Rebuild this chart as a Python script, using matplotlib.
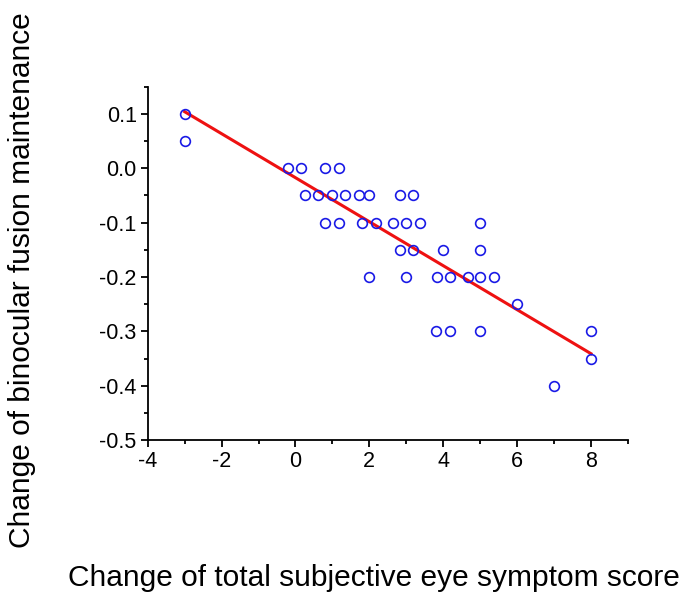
import numpy as np
import matplotlib
matplotlib.use("Agg")
import matplotlib.pyplot as plt
from matplotlib.ticker import MultipleLocator

plt.rcParams['font.family'] = ['Liberation Sans', 'DejaVu Sans']

# data
symptom_change = [-3, -3,
                  -0.19, 0.15, 0.81, 1.17,
                  0.27, 0.62, 0.98, 1.35, 1.71, 1.98, 2.82, 3.18,
                  0.81, 1.17, 1.81, 2.17, 2.64, 3.0, 3.36, 5.0,
                  2.84, 3.18, 4.0, 5.0,
                  2.0, 3.0, 3.83, 4.19, 4.67, 5.0, 5.37,
                  6.0,
                  3.81, 4.19, 5.0, 8.0,
                  8.0,
                  7.0]
fusion_change = [0.10, 0.05,
                 0.0, 0.0, 0.0, 0.0,
                 -0.05, -0.05, -0.05, -0.05, -0.05, -0.05, -0.05, -0.05,
                 -0.10, -0.10, -0.10, -0.10, -0.10, -0.10, -0.10, -0.10,
                 -0.15, -0.15, -0.15, -0.15,
                 -0.20, -0.20, -0.20, -0.20, -0.20, -0.20, -0.20,
                 -0.25,
                 -0.30, -0.30, -0.30, -0.30,
                 -0.35,
                 -0.40]
fit_x = [-3, 8]
fit_y = [0.104, -0.341]

fig = plt.figure(figsize=(6.84, 5.98), dpi=100)
ax = fig.add_axes([0.216, 0.264, 0.702, 0.591])

ax.plot(fit_x, fit_y, color='#ee1111', lw=2.2, zorder=2)
ax.plot(symptom_change, fusion_change, linestyle='none', marker='o',
        markersize=7, markerfacecolor='none', markeredgecolor='#1a1ae6',
        markeredgewidth=1.2, zorder=3)

ax.set_xlim(-4, 9)
ax.set_ylim(-0.5, 0.15)
ax.xaxis.set_major_locator(MultipleLocator(2))
ax.xaxis.set_minor_locator(MultipleLocator(1))
ax.yaxis.set_major_locator(MultipleLocator(0.1))
ax.yaxis.set_minor_locator(MultipleLocator(0.05))
ax.set_yticks([0.1, 0.0, -0.1, -0.2, -0.3, -0.4, -0.5])
ax.set_yticklabels(['0.1', '0.0', '-0.1', '-0.2', '-0.3', '-0.4', '-0.5'])
ax.set_xticks([-4, -2, 0, 2, 4, 6, 8])
ax.set_xticklabels(['-4', '-2', '0', '2', '4', '6', '8'])

for s in ['top', 'right']:
    ax.spines[s].set_visible(False)
for s in ['left', 'bottom']:
    ax.spines[s].set_linewidth(1.3)
ax.tick_params(which='major', direction='out', length=5, width=1.3,
               labelsize=15.5, pad=3)
ax.tick_params(which='minor', direction='out', length=3, width=1.3)

fig.text(0.032, 0.532, 'Change of binocular fusion maintenance', rotation=90,
         ha='center', va='center', fontsize=21.5)
fig.text(0.546, 0.033, 'Change of total subjective eye symptom score',
         ha='center', va='center', fontsize=21.5)

fig.savefig('out.png', dpi=100)
